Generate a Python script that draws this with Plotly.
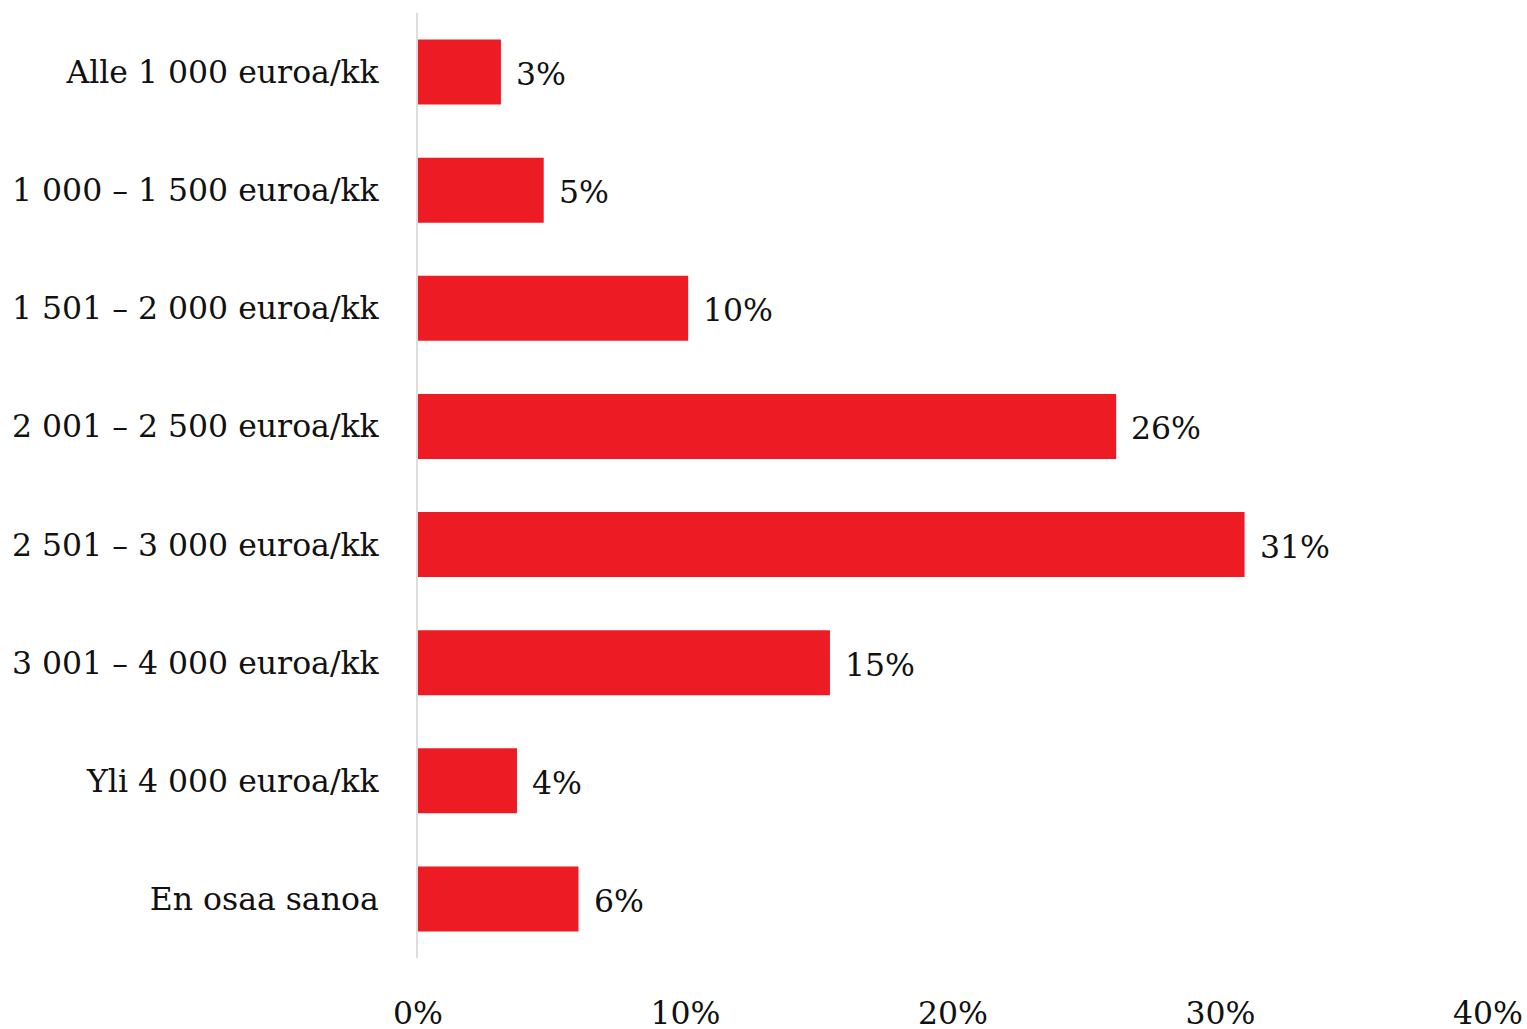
import plotly.graph_objects as go

categories = [
    "Alle 1 000 euroa/kk",
    "1 000 – 1 500 euroa/kk",
    "1 501 – 2 000 euroa/kk",
    "2 001 – 2 500 euroa/kk",
    "2 501 – 3 000 euroa/kk",
    "3 001 – 4 000 euroa/kk",
    "Yli 4 000 euroa/kk",
    "En osaa sanoa",
]
values = [3.1, 4.7, 10.1, 26.1, 30.9, 15.4, 3.7, 6.0]
labels = ["3%", "5%", "10%", "26%", "31%", "15%", "4%", "6%"]
tick_vals = [0, 10, 20, 30, 40]
tick_text = ["0%", "10%", "20%", "30%", "40%"]

font_family = "DejaVu Serif"
font_size = 31.5

fig = go.Figure()
fig.add_trace(go.Bar(
    y=categories, x=values, orientation="h",
    marker=dict(color="#ED1C24", line=dict(width=0)),
    hoverinfo="skip",
))

for cat, v, lab in zip(categories, values, labels):
    fig.add_annotation(x=v, y=cat, text=lab, showarrow=False,
                       xanchor="left", xshift=13, yshift=-2,
                       font=dict(family=font_family, size=font_size, color="#111111"))

fig.update_layout(
    width=1527, height=1029,
    margin=dict(l=418, r=39, t=13, b=71),
    paper_bgcolor="white", plot_bgcolor="white",
    bargap=0.45, showlegend=False,
    font=dict(family=font_family, size=font_size, color="#111111"),
)
fig.update_xaxes(range=[0, 40], tickvals=tick_vals, ticktext=tick_text,
                 showgrid=False, zeroline=False, showline=False,
                 ticklabelstandoff=33, automargin=False)
fig.update_yaxes(autorange="reversed", showgrid=False, zeroline=False,
                 showline=True, linecolor="#dddddd", linewidth=2,
                 ticklabelstandoff=31, automargin=False)

# drop the default 8px body margin so the figure fills the window
fig.write_html("out.html", config={"displayModeBar": False},
               post_script="document.body.style.margin='0';")
